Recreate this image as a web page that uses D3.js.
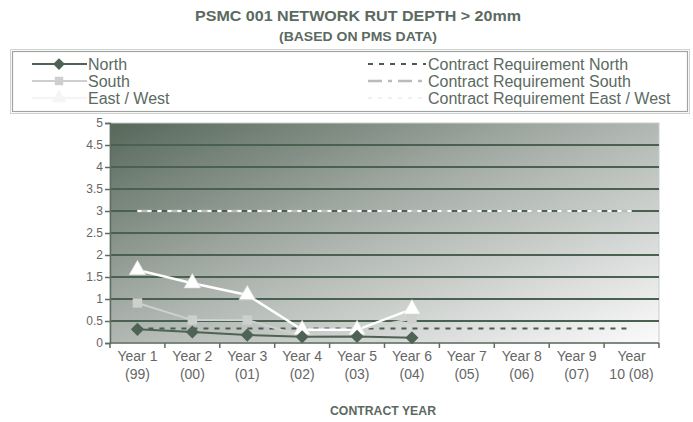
<!DOCTYPE html>
<html>
<head>
<meta charset="utf-8">
<script src="https://cdn.jsdelivr.net/npm/d3@7"></script>
<style>
  body { margin: 0; background: #fff; }
  svg text { font-family: "Liberation Sans", Arial, sans-serif; }
</style>
</head>
<body>
<svg id="chart" width="693" height="422"></svg>
<script>
// === data ===
const years = ["Year 1 (99)", "Year 2 (00)", "Year 3 (01)", "Year 4 (02)", "Year 5 (03)",
               "Year 6 (04)", "Year 7 (05)", "Year 8 (06)", "Year 9 (07)", "Year 10 (08)"];
const yearLines = [["Year 1", "(99)"], ["Year 2", "(00)"], ["Year 3", "(01)"], ["Year 4", "(02)"],
                   ["Year 5", "(03)"], ["Year 6", "(04)"], ["Year 7", "(05)"], ["Year 8", "(06)"],
                   ["Year 9", "(07)"], ["Year", "10 (08)"]];
const north = [0.31, 0.25, 0.18, 0.14, 0.15, 0.12];
const south = [0.91, 0.52, 0.52, 0.16, 0.30, 0.55];
const eastWest = [1.66, 1.36, 1.09, 0.30, 0.30, 0.77];
const reqNorth = [0.33, 0.33, 0.33, 0.33, 0.33, 0.33, 0.33, 0.33, 0.33, 0.33];
const reqSouth = [3, 3, 3, 3, 3, 3, 3, 3, 3, 3];
const reqEastWest = [3, 3, 3, 3, 3, 3, 3, 3, 3, 3];
const yTicks = [0, 0.5, 1, 1.5, 2, 2.5, 3, 3.5, 4, 4.5, 5];

const svg = d3.select("#chart");
const textCol = "#5b6a5f";

// plot area
const plotL = 110, plotR = 659, plotT = 123, plotB = 343;

const x = d3.scaleBand().domain(years).range([plotL, plotR]);
const y = d3.scaleLinear().domain([0, 5]).range([plotB, plotT]);
const cx = i => x(years[i]) + x.bandwidth() / 2;

// background gradient
const defs = svg.append("defs");
const grad = defs.append("linearGradient")
  .attr("id", "bg").attr("x1", 0).attr("y1", 0).attr("x2", 1).attr("y2", 1);
grad.append("stop").attr("offset", 0).attr("stop-color", "#56685a");
grad.append("stop").attr("offset", 0.45).attr("stop-color", "#a9b0ab");
grad.append("stop").attr("offset", 1).attr("stop-color", "#fbfbfb");

svg.append("rect")
  .attr("x", plotL).attr("y", plotT)
  .attr("width", plotR - plotL).attr("height", plotB - plotT)
  .attr("fill", "url(#bg)")
  .attr("stroke", "#c9cdca").attr("stroke-width", 1);

// gridlines
svg.append("g")
  .selectAll("line")
  .data(yTicks.filter(d => d > 0 && d < 5))
  .enter().append("line")
  .attr("x1", plotL).attr("x2", plotR)
  .attr("y1", d => y(d)).attr("y2", d => y(d))
  .attr("stroke", "#4a6050").attr("stroke-width", 1.8);

// titles
svg.append("text").attr("x", 358).attr("y", 21).attr("text-anchor", "middle")
  .attr("font-size", 14.5).attr("font-weight", "bold").attr("fill", textCol)
  .attr("textLength", 326).attr("lengthAdjust", "spacingAndGlyphs")
  .text("PSMC 001 NETWORK RUT DEPTH > 20mm");
svg.append("text").attr("x", 358).attr("y", 41).attr("text-anchor", "middle")
  .attr("font-size", 12).attr("font-weight", "bold").attr("fill", textCol)
  .attr("textLength", 158).attr("lengthAdjust", "spacingAndGlyphs")
  .text("(BASED ON PMS DATA)");

// axes
const yAxis = svg.append("g")
  .attr("transform", `translate(${plotL},0)`)
  .call(d3.axisLeft(y).tickValues(yTicks).tickSize(5).tickFormat(d3.format("")));
yAxis.select(".domain").attr("stroke", "#5d6d61").attr("stroke-width", 1.5);
yAxis.selectAll(".tick line").attr("stroke", "#5d6d61").attr("stroke-width", 1.5);
yAxis.selectAll("text").attr("fill", "#666").attr("font-size", 12).attr("x", -7)
  .attr("font-family", "Liberation Sans, Arial, sans-serif");

const xAxisG = svg.append("g");
xAxisG.append("line").attr("x1", plotL).attr("x2", plotR)
  .attr("y1", plotB).attr("y2", plotB)
  .attr("stroke", "#5d6d61").attr("stroke-width", 1.5);
xAxisG.selectAll("line.tk")
  .data(years.concat(["end"]))
  .enter().append("line").attr("class", "tk")
  .attr("x1", (d, i) => i < years.length ? x(d) : plotR)
  .attr("x2", (d, i) => i < years.length ? x(d) : plotR)
  .attr("y1", plotB).attr("y2", plotB + 5)
  .attr("stroke", "#5d6d61").attr("stroke-width", 1.5);
yearLines.forEach((ln, i) => {
  const t = xAxisG.append("text").attr("text-anchor", "middle")
    .attr("font-size", 14).attr("fill", "#666");
  t.append("tspan").attr("x", cx(i)).attr("y", 361).text(ln[0]);
  t.append("tspan").attr("x", cx(i)).attr("y", 379).text(ln[1]);
});
svg.append("text").attr("x", 383).attr("y", 415).attr("text-anchor", "middle")
  .attr("font-size", 12).attr("font-weight", "bold").attr("fill", textCol)
  .attr("textLength", 106).attr("lengthAdjust", "spacingAndGlyphs")
  .text("CONTRACT YEAR");

// series
const line = d3.line().x((d, i) => cx(i)).y(d => y(d));

const series = [
  { name: "Contract Requirement North", data: reqNorth, color: "#4b5b4f", width: 2, dash: "5,6", marker: null },
  { name: "Contract Requirement South", data: reqSouth, color: "#b8bdb9", width: 2.5, dash: "14,6,4,6", marker: null },
  { name: "Contract Requirement East / West", data: reqEastWest, color: "#ffffff", width: 2, dash: "4,6", marker: null },
  { name: "South", data: south, color: "#cdd0cd", width: 2, marker: "square" },
  { name: "East / West", data: eastWest, color: "#ffffff", width: 2.5, marker: "triangle" },
  { name: "North", data: north, color: "#4f6354", width: 2, marker: "diamond" }
];

const symbolType = { diamond: d3.symbolDiamond2 || d3.symbolDiamond, square: d3.symbolSquare, triangle: d3.symbolTriangle };
const symbolSize = { diamond: 110, square: 90, triangle: 120 };

series.forEach(s => {
  svg.append("path").datum(s.data)
    .attr("d", line).attr("fill", "none")
    .attr("stroke", s.color).attr("stroke-width", s.width)
    .attr("stroke-dasharray", s.dash || null);
});
series.filter(s => s.marker).forEach(s => {
  svg.append("g").selectAll("path")
    .data(s.data).enter().append("path")
    .attr("transform", (d, i) => `translate(${cx(i)},${y(d)})`)
    .attr("d", d3.symbol().type(symbolType[s.marker]).size(symbolSize[s.marker]))
    .attr("fill", s.color)
    .attr("stroke", s.marker === "triangle" ? "#d8dbd8" : "none")
    .attr("stroke-width", 0.6);
});

// legend
const legend = svg.append("g");
legend.append("rect").attr("x", 12.5).attr("y", 51.5).attr("width", 675).attr("height", 60)
  .attr("fill", "#fff").attr("stroke", "#9ea59f").attr("stroke-width", 1.2);
legend.append("rect").attr("x", 10.5).attr("y", 49.5).attr("width", 679).attr("height", 64)
  .attr("fill", "none").attr("stroke", "#d0d4d0").attr("stroke-width", 1);

const leftItems = [series[5], series[3], series[4]];
const rightItems = [series[0], series[1], series[2]];
const rowsY = [64, 81, 98];
leftItems.forEach((s, i) => {
  const ly = rowsY[i];
  legend.append("line").attr("x1", 32).attr("x2", 87).attr("y1", ly).attr("y2", ly)
    .attr("stroke", s.color === "#ffffff" ? "#f4f5f4" : s.color).attr("stroke-width", s.width);
  legend.append("path").attr("transform", `translate(59,${ly})`)
    .attr("d", d3.symbol().type(symbolType[s.marker]).size(symbolSize[s.marker] * 0.8))
    .attr("fill", s.color === "#ffffff" ? "#f4f5f4" : s.color);
  legend.append("text").attr("x", 88).attr("y", ly + 6).attr("font-size", 16)
    .attr("fill", textCol).text(s.name);
});
rightItems.forEach((s, i) => {
  const ly = rowsY[i];
  legend.append("line").attr("x1", 368).attr("x2", 426).attr("y1", ly).attr("y2", ly)
    .attr("stroke", s.color === "#ffffff" ? "#f0f1f0" : s.color).attr("stroke-width", s.width)
    .attr("stroke-dasharray", s.dash);
  legend.append("text").attr("x", 428).attr("y", ly + 6).attr("font-size", 16)
    .attr("fill", textCol).text(s.name);
});
</script>
</body>
</html>
